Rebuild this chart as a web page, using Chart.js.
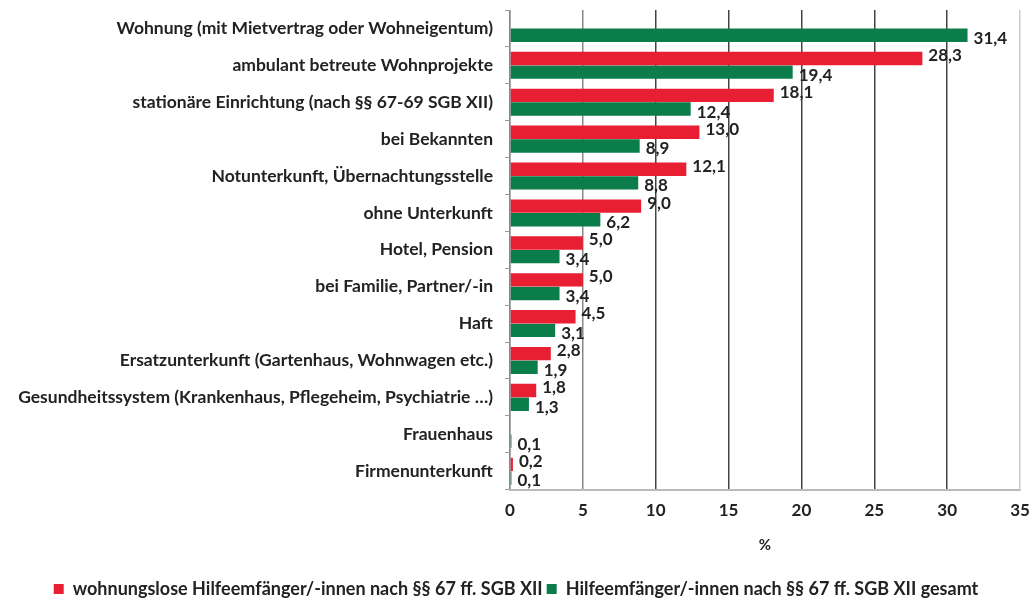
<!DOCTYPE html>
<html>
<head>
<meta charset="utf-8">
<script src="https://cdn.jsdelivr.net/npm/chart.js@4/dist/chart.umd.min.js"></script>
<style>
  html, body { margin: 0; padding: 0; background: #fff; }
  #wrap { width: 1032px; height: 600px; }
</style>
</head>
<body>
<div id="wrap"><canvas id="unterkunft-chart" width="1032" height="600"></canvas></div>
<script>
'use strict';

var categories = [
    'Wohnung (mit Mietvertrag oder Wohneigentum)',
    'ambulant betreute Wohnprojekte',
    'stationäre Einrichtung (nach §§ 67-69 SGB XII)',
    'bei Bekannten',
    'Notunterkunft, Übernachtungsstelle',
    'ohne Unterkunft',
    'Hotel, Pension',
    'bei Familie, Partner/-in',
    'Haft',
    'Ersatzunterkunft (Gartenhaus, Wohnwagen etc.)',
    'Gesundheitssystem (Krankenhaus, Pflegeheim, Psychiatrie …)',
    'Frauenhaus',
    'Firmenunterkunft'
];
var wohnungslose = [null, 28.3, 18.1, 13.0, 12.1, 9.0, 5.0, 5.0, 4.5, 2.8, 1.8, null, 0.2];
var gesamt = [31.4, 19.4, 12.4, 8.9, 8.8, 6.2, 3.4, 3.4, 3.1, 1.9, 1.3, 0.1, 0.1];
var xTicks = [0, 5, 10, 15, 20, 25, 30, 35];

var fontFamily = "Lato, 'Open Sans', 'Liberation Sans', sans-serif";

// value labels at the end of each bar, German decimal comma
var valueLabels = {
    id: 'valueLabels',
    afterDatasetsDraw: function (chart) {
        var c = chart.ctx;
        c.save();
        c.font = 'bold 17px ' + fontFamily;
        c.fillStyle = '#222';
        c.textBaseline = 'middle';
        chart.data.datasets.forEach(function (ds, i) {
            var meta = chart.getDatasetMeta(i);
            meta.data.forEach(function (bar, j) {
                var v = ds.data[j];
                if (v === null || v === undefined) return;
                c.fillText(v.toFixed(1).replace('.', ','), bar.x + 6, bar.y + (i === 0 ? -3 : 3));
            });
        });
        c.restore();
    }
};

new Chart(document.getElementById('unterkunft-chart'), {
    type: 'bar',
    data: {
        labels: categories,
        datasets: [{
            label: 'wohnungslose Hilfeemfänger/-innen nach §§ 67 ff. SGB XII',
            data: wohnungslose,
            backgroundColor: '#e81f32',
            categoryPercentage: 0.74,
            barPercentage: 0.98
        }, {
            label: 'Hilfeemfänger/-innen nach §§ 67 ff. SGB XII gesamt',
            data: gesamt,
            backgroundColor: '#0b7d4b',
            categoryPercentage: 0.74,
            barPercentage: 0.98
        }]
    },
    options: {
        indexAxis: 'y',
        responsive: false,
        animation: false,
        layout: {
            padding: { left: 0, right: 0, top: 10, bottom: -8 }
        },
        plugins: {
            legend: {
                display: true,
                position: 'bottom',
                labels: {
                    boxWidth: 10,
                    boxHeight: 10,
                    padding: 4,
                    color: '#222',
                    font: { family: fontFamily, size: 18, weight: 'bold' }
                }
            },
            tooltip: { enabled: false }
        },
        scales: {
            x: {
                min: 0,
                max: 35,
                afterBuildTicks: function (axis) {
                    axis.ticks = xTicks.map(function (v) { return { value: v }; });
                },
                afterFit: function (axis) { axis.paddingRight = 12; },
                grid: {
                    color: function (ctx) {
                        var v = ctx.tick ? ctx.tick.value : 0;
                        if (v === 35) return '#ccc';
                        if (v === 5 || v === 0) return '#888';
                        return '#444';
                    },
                    lineWidth: 1.5,
                    drawTicks: false
                },
                border: { display: true, color: '#bbb', width: 2 },
                ticks: {
                    padding: 11,
                    color: '#222',
                    font: { family: fontFamily, size: 17, weight: 'bold' }
                },
                title: {
                    display: true,
                    text: '%',
                    color: '#222',
                    padding: { top: 4, bottom: 22 },
                    font: { family: fontFamily, size: 15, weight: 'bold' }
                }
            },
            y: {
                afterFit: function (axis) {
                    axis.width = 510;
                    axis.paddingTop = 0;
                    axis.paddingBottom = 0;
                },
                grid: {
                    display: true,
                    drawOnChartArea: false,
                    offset: true,
                    color: '#999',
                    tickLength: 5
                },
                border: { display: true, color: '#aaa' },
                ticks: {
                    padding: 12,
                    color: '#222',
                    font: { family: fontFamily, size: 17.5, weight: 'bold' }
                }
            }
        }
    },
    plugins: [valueLabels]
});
</script>
</body>
</html>
